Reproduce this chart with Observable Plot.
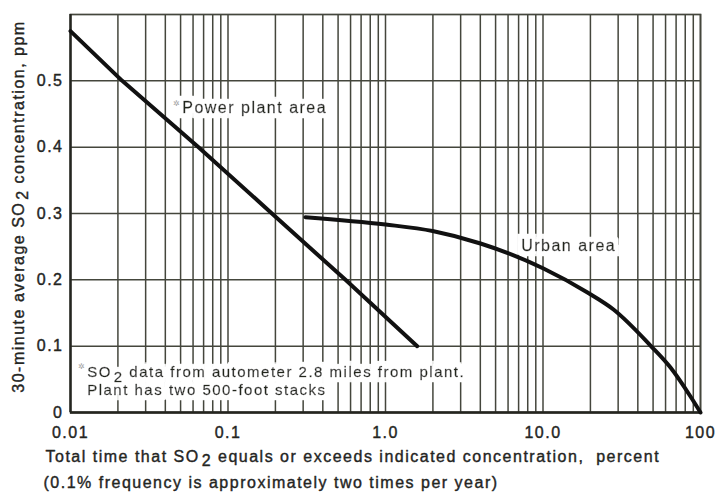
<!DOCTYPE html>
<html>
<head>
<meta charset="utf-8">
<script src="https://cdn.jsdelivr.net/npm/d3@7"></script>
<script src="https://cdn.jsdelivr.net/npm/@observablehq/plot@0.6"></script>
<style>
  body { margin: 0; background: #fff; }
  #chart svg { display: block; }
</style>
</head>
<body>
<div id="chart"></div>
<script>
// Percent of time SO2 equals or exceeds a concentration (ppm), two sites
const powerPct = [0.01, 0.0213, 0.065, 0.19, 0.557, 1.59];
const powerPpm = [0.575, 0.5, 0.4, 0.3, 0.2, 0.1];

const urbanPct = [0.31, 1.0, 1.99, 4.01, 10.07, 19.17, 28.03, 48.14, 64.5, 86.4, 100];
const urbanPpm = [0.2945, 0.2834, 0.2736, 0.2548, 0.2171, 0.1809, 0.1553, 0.101, 0.0678, 0.0241, 0];

// Axis ticks and their printed labels
const xTicks = [0.01, 0.1, 1, 10, 100];
const xTickLabels = ["0.01", "0.1", "1.0", "10.0", "100"];
const yTicks = [0, 0.1, 0.2, 0.3, 0.4, 0.5];
const yTickLabels = ["0", "0.1", "0.2", "0.3", "0.4", "0.5"];

// In-plot annotations (data coordinates)
const labels = [
  {pct: 0.0512, ppm: 0.4585, text: "Power plant area"},
  {pct: 7.27, ppm: 0.2515, text: "Urban area"}
];
const footnote = [
  {pct: 0.01276, ppm: 0.0487, text: "SO₂ data from autometer 2.8 miles from plant.\nPlant has two 500-foot stacks"}
];
// footnote markers
const stars = [
  {pct: 0.0512, ppm: 0.4585},
  {pct: 0.01276, ppm: 0.062}
];

const xTitle = [
  "Total time that SO₂ equals or exceeds indicated concentration,  percent",
  "(0.1% frequency is approximately two times per year)"
];
const yTitle = "30-minute average SO₂ concentration, ppm";

const power = powerPct.map((p, i) => ({pct: p, ppm: powerPpm[i]}));
const urban = urbanPct.map((p, i) => ({pct: p, ppm: urbanPpm[i]}));

const ink = "#24251f";
const gridInk = "#44463c";
const curveInk = "#111";
const heavy = {stroke: ink, strokeWidth: 0.4};

// log-paper grid: 1..9 within every decade
const decades = [0.01, 0.1, 1, 10];
const gridLines = decades.flatMap(d => [1, 2, 3, 4, 5, 6, 7, 8, 9].map(k => +(k * d).toPrecision(3))).concat([100]);

const xLabelOf = new Map(xTicks.map((t, i) => [t, xTickLabels[i]]));
const yLabelOf = new Map(yTicks.map((t, i) => [t, yTickLabels[i]]));

const chart = Plot.plot({
  width: 716,
  height: 493,
  marginLeft: 70,
  marginRight: 16,
  marginTop: 14,
  marginBottom: 81,
  style: {
    fontFamily: "'Liberation Sans', Arial, sans-serif",
    fontSize: "16px",
    letterSpacing: "1.5px",
    color: ink,
    background: "#fff"
  },
  x: {type: "log", domain: [0.01, 100]},
  y: {domain: [0, 0.6]},
  marks: [
    Plot.ruleX(gridLines, {stroke: gridInk, strokeWidth: 1.5}),
    Plot.ruleY(yTicks, {stroke: gridInk, strokeWidth: 1.5}),
    Plot.frame({stroke: gridInk, strokeWidth: 1.7}),
    Plot.text(labels, {
      x: "pct", y: "ppm", text: "text", textAnchor: "start",
      fill: ink, ...heavy
    }),
    Plot.text(footnote, {
      x: "pct", y: "ppm", text: "text", textAnchor: "start", lineHeight: 1.17,
      fontSize: 15, fill: ink, ...heavy
    }),
    Plot.text(stars, {
      x: "pct", y: "ppm", text: () => "✲", textAnchor: "end",
      dx: -1, dy: -5, fontSize: 8, fill: "#a0a0a0", stroke: "none"
    }),
    Plot.ruleX([0.01], {stroke: ink, strokeWidth: 2.3}),
    Plot.ruleY([0], {stroke: ink, strokeWidth: 2.3}),
    Plot.line(power, {x: "pct", y: "ppm", stroke: curveInk, strokeWidth: 4}),
    Plot.line(urban, {x: "pct", y: "ppm", stroke: curveInk, strokeWidth: 4, curve: "monotone-x"}),
    Plot.axisX(xTicks, {
      tickSize: 0, tickPadding: 14, tickFormat: d => xLabelOf.get(d), label: null,
      fill: ink, textStroke: ink, textStrokeWidth: 0.4
    }),
    Plot.axisY(yTicks, {
      tickSize: 0, tickPadding: 7, tickFormat: d => yLabelOf.get(d), label: null,
      fill: ink, textStroke: ink, textStrokeWidth: 0.4
    }),
    Plot.text([xTitle[0]], {frameAnchor: "bottom-left", dx: -25, dy: 44, textAnchor: "start", lineAnchor: "middle", fill: ink, ...heavy}),
    Plot.text([xTitle[1]], {frameAnchor: "bottom-left", dx: -27, dy: 70, textAnchor: "start", lineAnchor: "middle", fill: ink, ...heavy}),
    Plot.text([yTitle], {frameAnchor: "left", dx: -52, dy: -7, rotate: -90, textAnchor: "middle", lineAnchor: "middle", fill: ink, ...heavy})
  ]
});

const NS = "http://www.w3.org/2000/svg";

// White knockout behind the in-plot annotations so the grid breaks around them
const defs = document.createElementNS(NS, "defs");
const filter = document.createElementNS(NS, "filter");
filter.setAttribute("id", "knockout");
filter.setAttribute("x", "-15%");
filter.setAttribute("y", "-60%");
filter.setAttribute("width", "130%");
filter.setAttribute("height", "220%");
const prims = [
  ["feMorphology", {in: "SourceAlpha", operator: "dilate", radius: "5", result: "grown"}],
  ["feFlood", {"flood-color": "#ffffff", "flood-opacity": "1", result: "white"}],
  ["feComposite", {in: "white", in2: "grown", operator: "in", result: "pad"}]
];
for (const [tag, attrs] of prims) {
  const el = document.createElementNS(NS, tag);
  for (const k in attrs) el.setAttribute(k, attrs[k]);
  filter.append(el);
}
const merge = document.createElementNS(NS, "feMerge");
for (const src of ["pad", "SourceGraphic"]) {
  const n = document.createElementNS(NS, "feMergeNode");
  n.setAttribute("in", src);
  merge.append(n);
}
filter.append(merge);
defs.append(filter);
chart.prepend(defs);

const noteStarts = [...labels, ...footnote].map(d => d.text.split("\n")[0]);
chart.querySelectorAll("text").forEach(t => {
  if (noteStarts.some(s => t.textContent.startsWith(s))) t.setAttribute("filter", "url(#knockout)");
});

// Set the "2" of SO2 well below the baseline
chart.querySelectorAll("text, tspan").forEach(el => {
  const node = [...el.childNodes].find(n => n.nodeType === 3 && n.nodeValue.includes("₂"));
  if (!node) return;
  const [head, tail] = node.nodeValue.split("₂");
  node.nodeValue = head;
  const sub = document.createElementNS(NS, "tspan");
  sub.setAttribute("dy", "0.3em");
  sub.setAttribute("dx", "2");
  sub.textContent = "2";
  const rest = document.createElementNS(NS, "tspan");
  rest.setAttribute("dy", "-0.3em");
  rest.textContent = tail;
  node.after(sub, rest);
});

document.getElementById("chart").append(chart);
</script>
</body>
</html>
